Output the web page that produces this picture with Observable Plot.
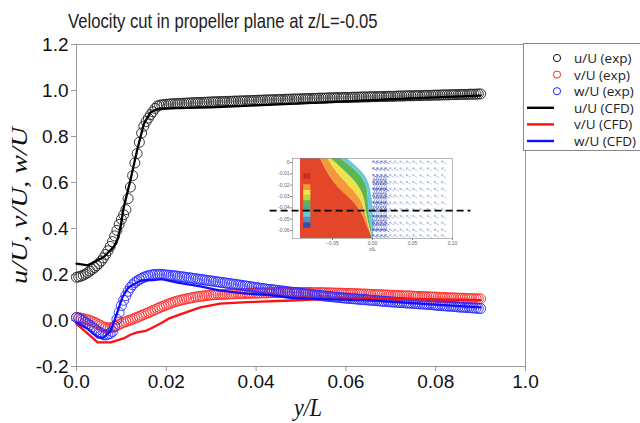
<!DOCTYPE html>
<html>
<head>
<meta charset="utf-8">
<script src="https://cdn.jsdelivr.net/npm/d3@7"></script>
<script src="https://cdn.jsdelivr.net/npm/@observablehq/plot@0.6"></script>
<style>
  html, body { margin: 0; padding: 0; background: #fff; }
  body { width: 640px; height: 423px; position: relative; overflow: hidden; }
  #title { position: absolute; left: 68px; top: 10px; font: 21px/21px "Liberation Sans", Arial, sans-serif; color: #222; white-space: nowrap; transform-origin: left top; }
  #chart { position: absolute; left: 0; top: 0; }
  #inset { position: absolute; left: 270px; top: 150px; }
  #legend { position: absolute; left: 523px; top: 43px; width: 140px; height: 106px; border: 1px solid #888; background: #fff; }
</style>
</head>
<body>
<div id="chart"></div>
<div id="inset"></div>
<div id="title">Velocity cut in propeller plane at z/L=-0.05</div>
<div id="legend"></div>
<script>
// ---------- experimental data (sampled positions y/L) ----------
const expX = [0,0.0005,0.001,0.0015,0.002,0.0025,0.003,0.0035,0.004,0.0045,0.005,0.0055,0.006,0.0065,0.007,0.0075,0.008,0.0085,0.009,0.0095,0.01,0.0105,0.011,0.0115,0.012,0.0125,0.013,0.0135,0.014,0.0145,0.015,0.0155,0.016,0.0165,0.017,0.0175,0.018,0.0185,0.019,0.0195,0.02,
0.0205,0.021,0.0215,0.022,0.0225,0.023,0.0235,0.024,0.0245,0.025,0.0255,0.026,0.0265,0.027,0.0275,0.028,0.0285,0.029,0.0295,0.03,
0.0305,0.031,0.0315,0.032,0.0325,0.033,0.0335,0.034,0.0345,0.035,0.0355,0.036,0.0365,0.037,0.0375,0.038,0.0385,0.039,0.0395,0.04,
0.0405,0.041,0.0415,0.042,0.0425,0.043,0.0435,0.044,0.0445,0.045,0.0455,0.046,0.0465,0.047,0.0475,0.048,0.0485,0.049,0.0495,0.05,
0.0505,0.051,0.0515,0.052,0.0525,0.053,0.0535,0.054,0.0545,0.055,0.0555,0.056,0.0565,0.057,0.0575,0.058,0.0585,0.059,0.0595,0.06,
0.0605,0.061,0.0615,0.062,0.0625,0.063,0.0635,0.064,0.0645,0.065,0.0655,0.066,0.0665,0.067,0.0675,0.068,0.0685,0.069,0.0695,0.07,
0.0705,0.071,0.0715,0.072,0.0725,0.073,0.0735,0.074,0.0745,0.075,0.0755,0.076,0.0765,0.077,0.0775,0.078,0.0785,0.079,0.0795,0.08,
0.0805,0.081,0.0815,0.082,0.0825,0.083,0.0835,0.084,0.0845,0.085,0.0855,0.086,0.0865,0.087,0.0875,0.088,0.0885,0.089,0.0895,0.09];

const uExp = [0.188,0.190,0.193,0.197,0.202,0.208,0.215,0.222,0.230,0.238,0.248,0.259,0.272,0.287,0.303,0.322,0.343,0.368,0.392,0.418,0.440,0.460,0.482,0.530,0.580,0.630,0.685,0.726,0.775,0.815,0.845,0.865,0.880,0.895,0.908,0.922,0.932,0.936,0.938,0.939,0.940,
0.941,0.942,0.942,0.943,0.943,0.944,0.944,0.945,0.945,0.946,0.946,0.947,0.947,0.948,0.948,0.948,0.949,0.949,0.950,0.950,
0.951,0.951,0.951,0.952,0.952,0.952,0.953,0.953,0.953,0.954,0.954,0.954,0.955,0.955,0.955,0.956,0.956,0.956,0.957,0.957,
0.958,0.958,0.958,0.959,0.959,0.959,0.960,0.960,0.960,0.961,0.961,0.961,0.962,0.962,0.962,0.963,0.963,0.963,0.963,0.964,
0.964,0.965,0.965,0.965,0.966,0.966,0.966,0.967,0.967,0.967,0.967,0.968,0.968,0.968,0.969,0.969,0.969,0.969,0.970,0.970,
0.970,0.970,0.971,0.971,0.971,0.971,0.972,0.972,0.972,0.972,0.973,0.973,0.973,0.973,0.974,0.974,0.974,0.974,0.975,0.975,
0.975,0.975,0.976,0.976,0.976,0.976,0.977,0.977,0.977,0.977,0.978,0.978,0.978,0.978,0.979,0.979,0.979,0.979,0.980,0.980,
0.980,0.980,0.981,0.981,0.981,0.981,0.982,0.982,0.982,0.982,0.983,0.983,0.983,0.983,0.984,0.984,0.984,0.984,0.985,0.985];

const vExp = [0.013,0.012,0.010,0.008,0.005,0.003,0.000,-0.004,-0.008,-0.013,-0.018,-0.023,-0.028,-0.031,-0.033,-0.032,-0.030,-0.026,-0.022,-0.017,-0.012,-0.008,-0.005,-0.001,0.002,0.006,0.010,0.014,0.018,0.022,0.026,0.030,0.034,0.038,0.043,0.047,0.052,0.056,0.060,0.064,0.068,
0.072,0.075,0.079,0.082,0.085,0.087,0.090,0.092,0.094,0.096,0.098,0.100,0.102,0.103,0.105,0.106,0.107,0.109,0.110,0.111,
0.112,0.112,0.113,0.113,0.114,0.114,0.115,0.115,0.116,0.116,0.116,0.117,0.117,0.117,0.118,0.118,0.118,0.119,0.119,0.119,
0.119,0.120,0.120,0.120,0.120,0.121,0.121,0.121,0.121,0.121,0.122,0.122,0.122,0.122,0.122,0.122,0.122,0.122,0.122,0.122,
0.122,0.122,0.122,0.122,0.121,0.121,0.121,0.121,0.121,0.121,0.120,0.120,0.120,0.120,0.119,0.119,0.119,0.119,0.118,0.118,
0.118,0.117,0.117,0.117,0.116,0.116,0.115,0.115,0.115,0.114,0.114,0.113,0.113,0.113,0.112,0.112,0.111,0.111,0.110,0.110,
0.110,0.109,0.109,0.108,0.108,0.107,0.107,0.107,0.106,0.106,0.105,0.105,0.104,0.104,0.104,0.103,0.103,0.102,0.102,0.102,
0.101,0.101,0.100,0.100,0.099,0.099,0.099,0.098,0.098,0.097,0.097,0.097,0.096,0.096,0.095,0.095,0.095,0.094,0.094,0.094];

const wExp = [0.013,0.010,0.005,-0.001,-0.008,-0.014,-0.020,-0.028,-0.035,-0.043,-0.050,-0.056,-0.062,-0.063,-0.060,-0.057,-0.048,-0.025,0.005,0.035,0.065,0.088,0.108,0.127,0.143,0.155,0.165,0.172,0.178,0.183,0.188,0.192,0.195,0.197,0.199,0.200,0.200,0.201,0.200,0.199,0.198,
0.197,0.196,0.195,0.194,0.193,0.191,0.190,0.189,0.187,0.186,0.185,0.183,0.182,0.180,0.179,0.178,0.176,0.175,0.173,0.172,
0.171,0.169,0.168,0.166,0.165,0.164,0.162,0.161,0.159,0.158,0.157,0.155,0.154,0.152,0.151,0.149,0.148,0.146,0.145,0.143,
0.142,0.140,0.139,0.138,0.136,0.135,0.134,0.133,0.131,0.130,0.129,0.128,0.127,0.125,0.124,0.123,0.122,0.121,0.119,0.118,
0.117,0.116,0.115,0.114,0.112,0.111,0.110,0.109,0.108,0.107,0.106,0.105,0.104,0.103,0.102,0.101,0.100,0.099,0.098,0.097,
0.096,0.095,0.095,0.094,0.093,0.092,0.091,0.091,0.090,0.089,0.088,0.087,0.087,0.086,0.085,0.084,0.083,0.083,0.082,0.081,
0.080,0.080,0.079,0.078,0.078,0.077,0.076,0.076,0.075,0.074,0.074,0.073,0.072,0.072,0.071,0.070,0.070,0.069,0.068,0.067,
0.066,0.065,0.064,0.064,0.063,0.062,0.062,0.061,0.060,0.059,0.058,0.058,0.057,0.056,0.056,0.055,0.054,0.054,0.053,0.052];

// ---------- CFD lines ----------
const uCfdX = [0,0.0025,0.006,0.0083,0.0091,0.0098,0.0105,0.012,0.0135,0.015,0.0165,0.018,0.02,0.03,0.04,0.05,0.06,0.07,0.08,0.09];
const uCfd  = [0.247,0.240,0.275,0.32,0.35,0.405,0.49,0.61,0.74,0.855,0.905,0.920,0.922,0.927,0.935,0.944,0.953,0.962,0.970,0.978];
const vCfdX = [0,0.0024,0.0047,0.0076,0.0105,0.012,0.0135,0.0155,0.017,0.019,0.0205,0.0225,0.025,0.0276,0.032,0.038,0.048,0.0566,0.065,0.075,0.09];
const vCfd  = [-0.015,-0.055,-0.095,-0.095,-0.078,-0.062,-0.052,-0.045,-0.03,-0.01,0.008,0.022,0.04,0.057,0.073,0.08,0.087,0.095,0.097,0.094,0.088];
const wCfdX = [0,0.0024,0.0047,0.006,0.0076,0.0087,0.0102,0.0116,0.0143,0.017,0.019,0.0225,0.0276,0.032,0.038,0.043,0.048,0.055,0.065,0.0766,0.09];
const wCfd  = [-0.01,-0.035,-0.073,-0.075,-0.045,0.013,0.1,0.145,0.174,0.176,0.18,0.165,0.148,0.13,0.117,0.11,0.097,0.093,0.088,0.073,0.057];

// ---------- axes ----------
const xTicks = [0,0.02,0.04,0.06,0.08,0.1];
const xTickLabels = ["0.0","0.02","0.04","0.06","0.08","1.0"];
const yTicks = [-0.2,0,0.2,0.4,0.6,0.8,1.0,1.2];
const xTitle = "y/L";
const yTitle = "u/U, v/U, w/U";

// ---------- legend ----------
const legendLabels = ["u/U (exp)","v/U (exp)","w/U (exp)","u/U (CFD)","v/U (CFD)","w/U (CFD)"];
const legendColors = ["#111","#ff2020","#2020ff","#000","#ff1010","#1010ff"];
const legendKinds  = ["dot","dot","dot","line","line","line"];

// ---------- inset (contour picture) ----------
const insetZ      = [0.0035,-0.0097,-0.022,-0.0335,-0.045,-0.057,-0.067];
const insetRedL   = [-0.09,-0.09,-0.09,-0.09,-0.09,-0.09,-0.09];
const insetRed    = [-0.065,-0.056,-0.044,-0.024,-0.0125,-0.006,0.0];
const insetOrange = [-0.056,-0.044,-0.0275,-0.0125,-0.009,-0.004,0.0];
const insetYellow = [-0.052,-0.031,-0.015,-0.009,-0.008,-0.003,0.0];
const insetGreen  = [-0.040,-0.015,-0.006,-0.005,-0.005,-0.001,0.0];
const insetCyan   = [-0.032,-0.009,-0.0025,0.0,0.001,0.002,0.001];
const bandColors  = ["#e4462a","#f29a3a","#f2e24a","#5db553","#6cc7d8"];
const barColors   = ["#c83020","#e4462a","#f29a3a","#f2e24a","#b8d84a","#5db553","#4aa890","#6cc7d8","#4a90d0","#3050b0"];
const barZ        = [-0.010,-0.0148,-0.0196,-0.0244,-0.0292,-0.034,-0.0388,-0.0436,-0.0484,-0.0532,-0.058];
const vecX = [0.003,0.008,0.013,0.018,0.024,0.030,0.037,0.045,0.053,0.062,0.071,0.080,0.089];
const vecZ = [0.0,-0.006,-0.012,-0.018,-0.024,-0.030,-0.036,-0.042,-0.048,-0.054,-0.060,-0.065];
const vortexX = [0.002,0.005,0.008,0.011,0.014,0.017];
const vortexZ = [-0.014,-0.018,-0.022,-0.026,-0.030,-0.034,-0.038,-0.042,-0.046,-0.050,-0.054,-0.058];
const cutZ = -0.0424;
const cutX = [-0.128, 0.123];
const insetXTicks = [-0.05,0,0.05,0.1];
const insetYTicks = [0,-0.01,-0.02,-0.03,-0.04,-0.05,-0.06];

// ---------- build main chart ----------
const expTable = expX.map((x, i) => ({x, u: uExp[i], v: vExp[i], w: wExp[i]}));
const uLine = uCfdX.map((x, i) => ({x, y: uCfd[i]}));
const vLine = vCfdX.map((x, i) => ({x, y: vCfd[i]}));
const wLine = wCfdX.map((x, i) => ({x, y: wCfd[i]}));
const serif = "'Liberation Serif', 'Times New Roman', serif";

const chart = Plot.plot({
  width: 640, height: 423,
  marginLeft: 76, marginRight: 115, marginTop: 44, marginBottom: 57,
  style: {fontFamily: "'Liberation Sans', Arial, sans-serif", fontSize: "19px", color: "#111", background: "transparent", overflow: "visible"},
  x: {domain: [0, 0.1]},
  y: {domain: [-0.2, 1.2]},
  marks: [
    Plot.frame({stroke: "#999", strokeWidth: 1}),
    Plot.axisX({ticks: xTicks, tickFormat: (d, i) => xTickLabels[i], tickSize: 5, tickPadding: 3, stroke: "#999", label: null, fontSize: 19}),
    Plot.axisY({ticks: yTicks, tickFormat: d => d.toFixed(1), tickSize: 5, tickPadding: 3, stroke: "#999", label: null, fontSize: 19}),
    Plot.text([xTitle], {frameAnchor: "bottom", textAnchor: "middle", lineAnchor: "bottom", dx: 7, dy: 49, fontFamily: serif, fontStyle: "italic", fontSize: 26, fill: "#111"}),
    Plot.text([yTitle], {frameAnchor: "left", textAnchor: "middle", dx: -50, rotate: -90, fontFamily: serif, fontStyle: "italic", fontSize: 28, fill: "#111"}),
    Plot.dot(expTable, {x: "x", y: "v", r: 5, stroke: "#ff2a2a", strokeWidth: 0.9, fill: "none"}),
    Plot.dot(expTable, {x: "x", y: "w", r: 5, stroke: "#2a2aff", strokeWidth: 0.9, fill: "none"}),
    Plot.dot(expTable, {x: "x", y: "u", r: 5, stroke: "#222", strokeWidth: 0.9, fill: "none"}),
    Plot.line(vLine, {x: "x", y: "y", stroke: "#ff1010", strokeWidth: 2.3}),
    Plot.line(wLine, {x: "x", y: "y", stroke: "#1010ff", strokeWidth: 2.3}),
    Plot.line(uLine, {x: "x", y: "y", stroke: "#000", strokeWidth: 2.3})
  ]
});
document.getElementById("chart").appendChild(chart);

// the reference picture is squeezed horizontally: squeeze the two axis titles likewise
function squeeze(el, sx, sy) {
  const x = +el.getAttribute("x") || 0, y = +el.getAttribute("y") || 0;
  el.removeAttribute("x"); el.removeAttribute("y");
  const t = el.getAttribute("transform") || "";
  el.setAttribute("transform", `${t} translate(${x},${y}) scale(${sx},${sy})`);
}
d3.select(chart).selectAll("text").each(function () {
  if (this.textContent === xTitle) squeeze(this, 0.85, 1);
  else if (this.textContent === yTitle) squeeze(this, 1, 0.85);
});

// title width matched to the reference (310 px wide)
const titleEl = document.getElementById("title");
titleEl.style.transform = `scaleX(${310 / titleEl.offsetWidth})`;

// ---------- inset ----------
const bandTable = insetZ.map((z, i) => ({z, r0: insetRedL[i], r1: insetRed[i], o1: insetOrange[i], y1: insetYellow[i], g1: insetGreen[i], c1: insetCyan[i]}));
const barTable = barColors.map((c, i) => ({c, z1: barZ[i], z2: barZ[i + 1]}));
const vecTable = d3.cross(vecX, vecZ).map(([x, z]) => ({x, z}));
const vortexTable = d3.cross(vortexX, vortexZ).map(([x, z]) => ({x, z}));
const inset = Plot.plot({
  width: 205, height: 105,
  marginLeft: 22, marginRight: 23, marginTop: 8, marginBottom: 17,
  style: {fontFamily: "'Liberation Sans', Arial, sans-serif", fontSize: "5px", color: "#666", background: "transparent", overflow: "visible"},
  x: {domain: [-0.1, 0.1]},
  y: {domain: [-0.067, 0.0035]},
  marks: [
    Plot.areaX(bandTable, {y: "z", x1: "r0", x2: "r1", fill: bandColors[0], curve: "basis"}),
    Plot.areaX(bandTable, {y: "z", x1: "r1", x2: "o1", fill: bandColors[1], curve: "basis"}),
    Plot.areaX(bandTable, {y: "z", x1: "o1", x2: "y1", fill: bandColors[2], curve: "basis"}),
    Plot.areaX(bandTable, {y: "z", x1: "y1", x2: "g1", fill: bandColors[3], curve: "basis"}),
    Plot.areaX(bandTable, {y: "z", x1: "g1", x2: "c1", fill: bandColors[4], curve: "basis"}),
    Plot.rect(barTable, {x1: -0.086, x2: -0.077, y1: "z1", y2: "z2", fill: "c"}),
    Plot.vector(vecTable, {x: "x", y: "z", length: 5, rotate: 300, stroke: "#3a4fc0", strokeWidth: 0.6, strokeOpacity: d => d.x < 0.02 ? 0.9 : 0.45}),
    Plot.vector(vortexTable, {x: "x", y: "z", length: 4, rotate: 200, stroke: "#2a3fb0", strokeWidth: 0.6, strokeOpacity: 0.7}),
    Plot.frame({stroke: "#888", strokeWidth: 0.6}),
    Plot.axisX({ticks: insetXTicks, tickSize: 2, tickPadding: 1, stroke: "#888", label: null, fontSize: 5}),
    Plot.axisY({ticks: insetYTicks, tickSize: 2, tickPadding: 1, stroke: "#888", label: null, fontSize: 5, tickFormat: d => d === 0 ? "0" : d.toFixed(2)}),
    Plot.text(["x/L"], {x: 0, y: -0.067, dy: 11, fontSize: 5, fill: "#555"}),
    Plot.ruleY([cutZ], {x1: cutX[0], x2: cutX[1], stroke: "#000", strokeWidth: 1.6, strokeDasharray: "7,4"})
  ]
});
document.getElementById("inset").appendChild(inset);

// ---------- legend (HTML/SVG) ----------
const lg = d3.select("#legend").append("svg").attr("width", 140).attr("height", 106);
legendLabels.forEach((lab, i) => {
  const cy = 14 + i * 16.6;
  if (legendKinds[i] === "dot") {
    lg.append("circle").attr("cx", 33).attr("cy", cy).attr("r", 3.6).attr("fill", "none").attr("stroke", legendColors[i]).attr("stroke-width", 1);
  } else {
    lg.append("line").attr("x1", 3).attr("x2", 30).attr("y1", cy).attr("y2", cy).attr("stroke", legendColors[i]).attr("stroke-width", 2.4);
  }
  lg.append("text").attr("x", 50).attr("y", cy + 5).attr("font-family", "'Open Sans', 'Liberation Sans', sans-serif").attr("font-size", 13.5).attr("fill", "#222").text(lab);
});
</script>
</body>
</html>
